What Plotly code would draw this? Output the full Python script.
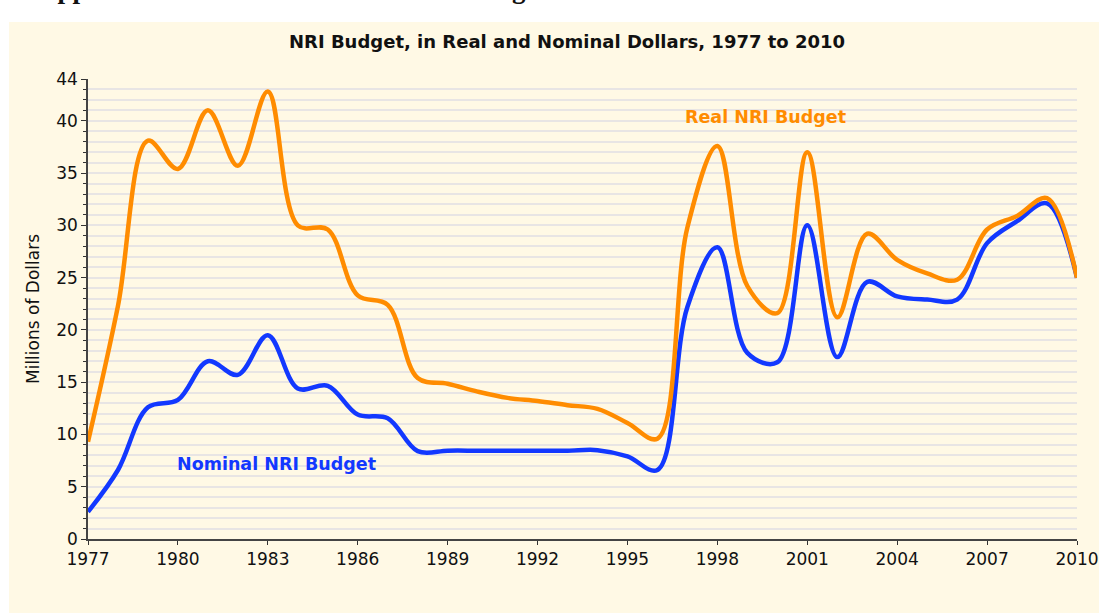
import plotly.graph_objects as go

# data (millions of dollars)
years = list(range(1977, 2011))
real_budget = [9.3, 22.3, 38.1, 35.4, 41.0, 35.7, 42.8, 30.0, 29.6, 23.3,
               22.4, 15.4, 14.85, 14.1, 13.5, 13.2, 12.8, 12.45, 11.1, 9.6,
               29.8, 37.6, 24.2, 21.6, 37.0, 21.2, 29.2, 26.7, 25.4, 24.8,
               29.6, 30.9, 32.6, 25.0]
nominal_budget = [2.6, 6.6, 12.6, 13.3, 17.0, 15.7, 19.5, 14.4, 14.65, 11.9,
                  11.55, 8.4, 8.45, 8.45, 8.45, 8.45, 8.45, 8.5, 7.9, 6.6,
                  22.2, 27.9, 17.8, 16.9, 30.0, 17.4, 24.6, 23.2, 22.9, 22.9,
                  28.3, 30.4, 32.1, 25.0]
x_ticks = list(range(1977, 2011, 3))
y_ticks = [0, 5, 10, 15, 20, 25, 30, 35, 40, 44]

ORANGE = "#FF8C00"
BLUE = "#1238FF"
CREAM = "#FFF9E5"
GRID = "#E8E5E4"

fig = go.Figure()
fig.add_trace(go.Scatter(x=years, y=nominal_budget, mode="lines",
                         line=dict(color=BLUE, width=4.5, shape="spline"),
                         name="Nominal NRI Budget"))
fig.add_trace(go.Scatter(x=years, y=real_budget, mode="lines",
                         line=dict(color=ORANGE, width=4.5, shape="spline"),
                         name="Real NRI Budget"))

# cream panel behind everything
fig.add_shape(type="rect", xref="paper", yref="paper",
              x0=(9 - 88) / 989, x1=(1100 - 88) / 989,
              y0=(539 - 614) / 460, y1=(539 - 22) / 460,
              fillcolor=CREAM, line=dict(width=0), layer="below")

fig.add_annotation(text="<b>NRI Budget, in Real and Nominal Dollars, 1977 to 2010</b>",
                   xref="paper", yref="paper", x=(567 - 88) / 989, y=(539 - 42) / 460,
                   xanchor="center", yanchor="middle", showarrow=False,
                   font=dict(family="DejaVu Sans", size=18, color="#111"))
fig.add_annotation(text="<b>Real NRI Budget</b>", x=1996.85, y=40.4,
                   xanchor="left", yanchor="middle", showarrow=False,
                   font=dict(family="DejaVu Sans", size=17.5, color=ORANGE))
fig.add_annotation(text="<b>Nominal NRI Budget</b>", x=1979.9, y=7.2,
                   xanchor="left", yanchor="middle", showarrow=False,
                   font=dict(family="DejaVu Sans", size=17.5, color=BLUE))
# heading of the page above the chart, mostly cut off
fig.add_annotation(text="<b>Appendix C: Real and Nominal NRI Budget</b>",
                   xref="paper", yref="paper", x=(36 - 88) / 989, y=(539 - 6) / 460,
                   xanchor="left", yanchor="bottom", showarrow=False,
                   font=dict(family="Liberation Serif", size=27, color="#111"))

fig.update_xaxes(range=[1977, 2010], tickvals=x_ticks, showgrid=False,
                 showline=True, linecolor="#444", linewidth=1.5,
                 ticks="outside", ticklen=4, tickcolor="#333",
                 tickfont=dict(family="DejaVu Sans", size=17, color="#111"),
                 automargin=False, zeroline=False)
fig.update_yaxes(range=[0, 44], tickvals=y_ticks, showgrid=True,
                 gridcolor=GRID, gridwidth=1.5,
                 showline=True, linecolor="#444", linewidth=1.5,
                 ticks="outside", ticklen=5, tickcolor="#333",
                 minor=dict(dtick=1, ticks="outside", ticklen=3, tickcolor="#333",
                            showgrid=True, gridcolor=GRID, gridwidth=1.5),
                 tickfont=dict(family="DejaVu Sans", size=17, color="#111"),
                 title=dict(text="Millions of Dollars", standoff=12,
                            font=dict(family="DejaVu Sans", size=17, color="#111")),
                 automargin=False, zeroline=False)

fig.update_layout(width=1099, height=613, showlegend=False,
                  paper_bgcolor="white", plot_bgcolor="rgba(0,0,0,0)",
                  margin=dict(l=88, r=22, t=79, b=74))

fig.write_html("out.html", config={"displayModeBar": False},
               post_script="document.body.style.margin='0';")
